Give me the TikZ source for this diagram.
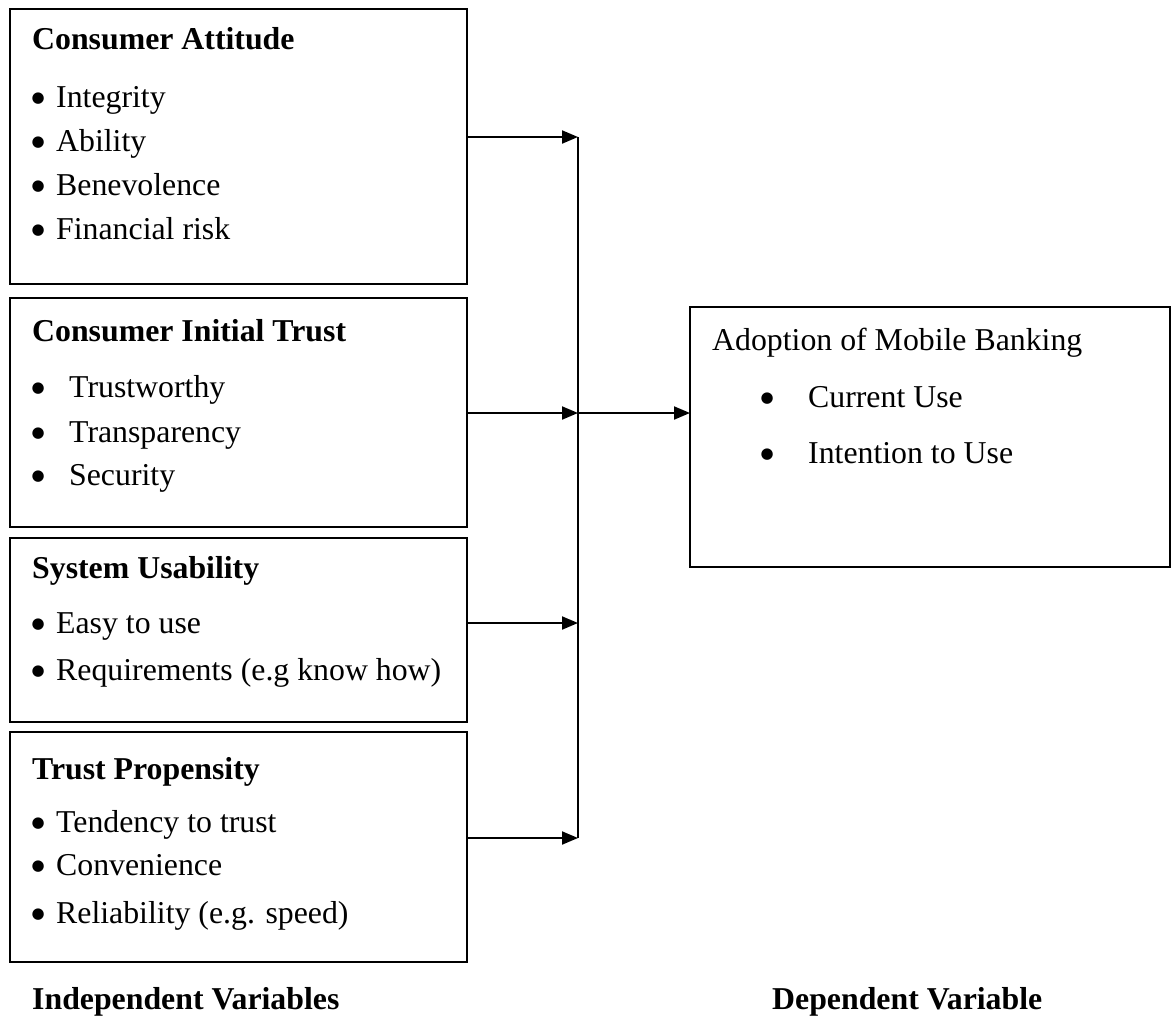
\documentclass[tikz,border=0pt]{standalone}
\usepackage{fontspec}
\setmainfont{Liberation Serif}
\newfontfamily\bulfont{DejaVu Sans}
\usetikzlibrary{arrows.meta}
\tikzset{
  box/.style={draw, line width=2pt, anchor=north west, inner sep=0pt, outer sep=0pt},
  txt/.style={anchor=base west, inner sep=0pt, font=\fontsize{31.8}{38}\selectfont},
  ttl/.style={txt, font=\fontsize{31.8}{38}\selectfont\bfseries},
  conn/.style={line width=2pt},
  arr/.style={line width=2pt, -{Triangle[length=16pt,width=13pt]}}
}
\newcommand{\bx}[5]{\node[box, minimum width=#3pt, minimum height=#4pt] (#5) at (#1,#2) {};}
\newcommand{\bitem}[2]{\makebox[#1pt][l]{\hspace{2pt}\raisebox{5pt}{\bulfont\fontsize{15}{15}\selectfont ●}}#2}
\begin{document}
\begin{tikzpicture}[x=1pt,y=-1pt]
\useasboundingbox (0,0) rectangle (1172,1029);
% boxes
\bx{10}{9}{457}{275}{b1}
\bx{10}{298}{457}{229}{b2}
\bx{10}{538}{457}{184}{b3}
\bx{10}{732}{457}{230}{b4}
\bx{690}{307}{480}{260}{out}
% box 1
\node[ttl] (t1) at (32,49) {Consumer Attitude};
\node[txt] (i11) at (29.5,107) {\bitem{26.5}{Integrity}};
\node[txt] (i12) at (29.5,151) {\bitem{26.5}{Ability}};
\node[txt] (i13) at (29.5,195) {\bitem{26.5}{Benevolence}};
\node[txt] (i14) at (29.5,239) {\bitem{26.5}{Financial risk}};
% box 2
\node[ttl] (t2) at (32,341) {Consumer Initial Trust};
\node[txt] (i21) at (29.5,397) {\bitem{39.5}{Trustworthy}};
\node[txt] (i22) at (29.5,442) {\bitem{39.5}{Transparency}};
\node[txt] (i23) at (29.5,485) {\bitem{39.5}{Security}};
% box 3
\node[ttl] (t3) at (32,578) {System Usability};
\node[txt] (i31) at (29.5,633) {\bitem{26.5}{Easy to use}};
\node[txt] (i32) at (29.5,680) {\bitem{26.5}{Requirements (e.g know how)}};
% box 4
\node[ttl] (t4) at (32,779) {Trust Propensity};
\node[txt] (i41) at (29.5,832) {\bitem{26.5}{Tendency to trust}};
\node[txt] (i42) at (29.5,875) {\bitem{26.5}{Convenience}};
\node[txt] (i43) at (29.5,923) {\bitem{26.5}{Reliability (e.g. speed)}};
% output box
\node[txt] (to) at (712,350) {Adoption of Mobile Banking};
\node[txt] (io1) at (758.5,407) {\bitem{49.5}{Current Use}};
\node[txt] (io2) at (758.5,463) {\bitem{49.5}{Intention to Use}};
% labels
\node[ttl] (lind) at (32,1009) {Independent Variables};
\node[ttl] (ldep) at (772,1009) {Dependent Variable};
% connectors
\coordinate (j1) at (578,137);
\coordinate (j2) at (578,413);
\coordinate (j3) at (578,623);
\coordinate (j4) at (578,838);
\draw[arr] (b1.east |- j1) -- (j1);
\draw[arr] (b2.east |- j2) -- (j2);
\draw[arr] (b3.east |- j3) -- (j3);
\draw[arr] (b4.east |- j4) -- (j4);
\draw[conn] (j1) -- (j4);
\draw[arr] (j2) -- (out.west |- j2);
\end{tikzpicture}
\end{document}
